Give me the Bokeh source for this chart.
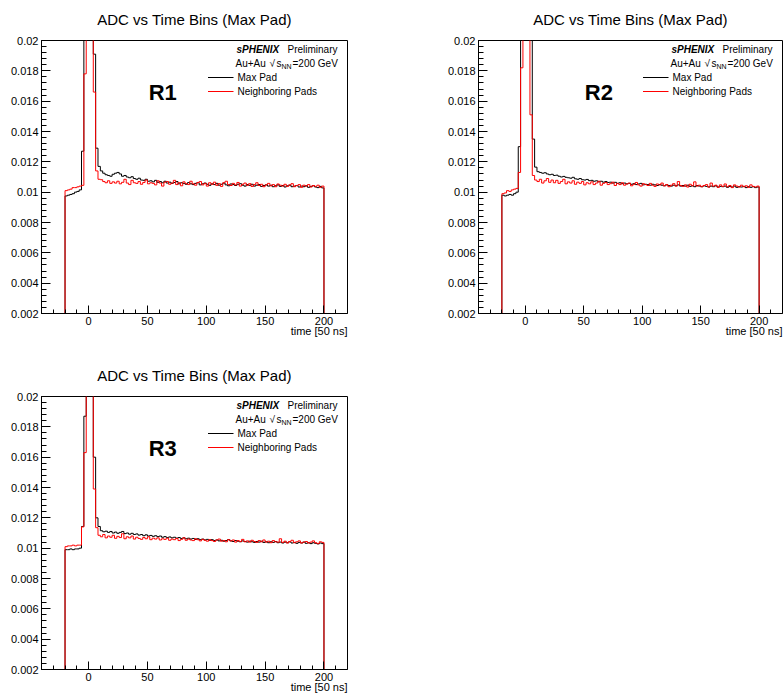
import numpy as np
from bokeh.plotting import figure
from bokeh.layouts import column, row
from bokeh.models import (FixedTicker, CustomJSTickFormatter, Label, Legend,
                          LegendItem, Range1d, Title)
from bokeh.embed import file_html
from bokeh.resources import INLINE

FONT = "Liberation Sans"
TITLE = "ADC vs Time Bins (Max Pad)"
X_TITLE = "time [50 ns]"

# Histogram binning (time in units of 50 ns): 2-sample bins, filled from -20 to 200
HIST_LO, HIST_HI = -40, 220
DATA_LO = -20
BIN_W = 2

X_MAJOR = [0, 50, 100, 150, 200]
X_MINOR = [v for v in range(-30, 220, 10) if v not in X_MAJOR]
Y_MIN, Y_MAX = 0.002, 0.02
Y_MAJOR = [0.002, 0.004, 0.006, 0.008, 0.010, 0.012, 0.014, 0.016, 0.018, 0.020]
Y_MINOR = [round(0.002 + 0.0004 * k, 5) for k in range(46)]

# Normalised ADC per time bin, bins [-20,-18), [-18,-16), ... [198,200)
R1_MAX_PAD = [
    0.00975, 0.00980, 0.00985, 0.00990, 0.01000, 0.01005, 0.01015,
    0.01270, 0.03100, 0.05400, 0.04700, 0.03300, 0.01910, 0.01290,
    0.01170, 0.01140, 0.01125, 0.01115, 0.01110, 0.01105, 0.01118, 0.01125,
    0.01130, 0.01120, 0.01105, 0.01110, 0.01100, 0.01095, 0.01102, 0.01090,
    0.01085, 0.01092, 0.01080, 0.01078, 0.01085, 0.01072, 0.01075, 0.01068,
    0.01078, 0.01065, 0.01070, 0.01062, 0.01072, 0.01060, 0.01066, 0.01058,
    0.01064, 0.01070, 0.01055, 0.01062, 0.01058, 0.01052, 0.01063, 0.01055,
    0.01050, 0.01058, 0.01062, 0.01048, 0.01055, 0.01060, 0.01052, 0.01045,
    0.01055, 0.01050, 0.01058, 0.01046, 0.01052, 0.01060, 0.01048, 0.01042,
    0.01054, 0.01050, 0.01044, 0.01052, 0.01056, 0.01046, 0.01040, 0.01050,
    0.01045, 0.01052, 0.01040, 0.01046, 0.01050, 0.01038, 0.01044, 0.01048,
    0.01040, 0.01046, 0.01036, 0.01042, 0.01048, 0.01038, 0.01044, 0.01034,
    0.01042, 0.01046, 0.01036, 0.01040, 0.01044, 0.01034, 0.01040, 0.01036,
    0.01042, 0.01032, 0.01038, 0.01042, 0.01034, 0.01030, 0.01038, 0.01028,
]
R1_NEIGHBORS = [
    0.01010, 0.01015, 0.01020, 0.01030, 0.01030, 0.01035, 0.01040,
    0.01045, 0.01780, 0.05600, 0.04900, 0.02900, 0.01660, 0.01140,
    0.01085, 0.01082, 0.01070, 0.01062, 0.01075, 0.01058, 0.01068, 0.01060,
    0.01072, 0.01055, 0.01065, 0.01085, 0.01060, 0.01050, 0.01078, 0.01062,
    0.01058, 0.01070, 0.01052, 0.01064, 0.01080, 0.01055, 0.01062, 0.01058,
    0.01048, 0.01075, 0.01060, 0.01040, 0.01066, 0.01070, 0.01052, 0.01060,
    0.01078, 0.01050, 0.01062, 0.01042, 0.01068, 0.01056, 0.01050, 0.01072,
    0.01055, 0.01046, 0.01064, 0.01070, 0.01048, 0.01058, 0.01040, 0.01062,
    0.01052, 0.01066, 0.01045, 0.01056, 0.01038, 0.01062, 0.01072, 0.01050,
    0.01044, 0.01058, 0.01048, 0.01064, 0.01040, 0.01052, 0.01060, 0.01045,
    0.01056, 0.01038, 0.01050, 0.01062, 0.01044, 0.01052, 0.01036, 0.01048,
    0.01058, 0.01042, 0.01050, 0.01036, 0.01054, 0.01046, 0.01040, 0.01052,
    0.01038, 0.01048, 0.01056, 0.01036, 0.01044, 0.01050, 0.01032, 0.01046,
    0.01040, 0.01050, 0.01034, 0.01044, 0.01038, 0.01046, 0.01032, 0.01040,
]
R2_MAX_PAD = [
    0.00980, 0.00975, 0.00980, 0.00985, 0.00980, 0.00990, 0.01000,
    0.01300, 0.03000, 0.05200, 0.04800, 0.03400, 0.02300, 0.01350,
    0.01165, 0.01135, 0.01130, 0.01125, 0.01128, 0.01120, 0.01115, 0.01118,
    0.01110, 0.01112, 0.01105, 0.01100, 0.01104, 0.01098, 0.01095, 0.01092,
    0.01098, 0.01088, 0.01085, 0.01090, 0.01082, 0.01080, 0.01084, 0.01076,
    0.01078, 0.01072, 0.01075, 0.01068, 0.01072, 0.01066, 0.01070, 0.01064,
    0.01066, 0.01060, 0.01065, 0.01058, 0.01062, 0.01056, 0.01060, 0.01055,
    0.01058, 0.01052, 0.01056, 0.01050, 0.01054, 0.01058, 0.01048, 0.01052,
    0.01050, 0.01046, 0.01052, 0.01048, 0.01044, 0.01050, 0.01046, 0.01042,
    0.01048, 0.01044, 0.01040, 0.01046, 0.01042, 0.01048, 0.01040, 0.01044,
    0.01040, 0.01046, 0.01038, 0.01042, 0.01036, 0.01044, 0.01040, 0.01036,
    0.01042, 0.01038, 0.01034, 0.01040, 0.01036, 0.01042, 0.01034, 0.01038,
    0.01036, 0.01040, 0.01032, 0.01038, 0.01034, 0.01040, 0.01032, 0.01036,
    0.01034, 0.01038, 0.01030, 0.01036, 0.01032, 0.01036, 0.01030, 0.01034,
]
R2_NEIGHBORS = [
    0.00990, 0.00995, 0.01010, 0.01005, 0.01015, 0.01020, 0.01025,
    0.01130, 0.01820, 0.05500, 0.05000, 0.03100, 0.01510, 0.01110,
    0.01080, 0.01070, 0.01085, 0.01060, 0.01075, 0.01090, 0.01065, 0.01080,
    0.01062, 0.01078, 0.01058, 0.01070, 0.01085, 0.01055, 0.01068, 0.01060,
    0.01075, 0.01052, 0.01066, 0.01058, 0.01070, 0.01048, 0.01062, 0.01055,
    0.01068, 0.01050, 0.01060, 0.01072, 0.01046, 0.01058, 0.01064, 0.01050,
    0.01056, 0.01066, 0.01044, 0.01058, 0.01050, 0.01062, 0.01046, 0.01054,
    0.01060, 0.01042, 0.01052, 0.01064, 0.01048, 0.01040, 0.01056, 0.01050,
    0.01044, 0.01058, 0.01046, 0.01038, 0.01054, 0.01048, 0.01060, 0.01042,
    0.01050, 0.01036, 0.01046, 0.01056, 0.01040, 0.01070, 0.01044, 0.01038,
    0.01048, 0.01034, 0.01052, 0.01042, 0.01068, 0.01040, 0.01046, 0.01036,
    0.01044, 0.01050, 0.01034, 0.01060, 0.01040, 0.01046, 0.01032, 0.01048,
    0.01038, 0.01054, 0.01036, 0.01044, 0.01030, 0.01048, 0.01040, 0.01034,
    0.01046, 0.01036, 0.01042, 0.01032, 0.01048, 0.01038, 0.01034, 0.01040,
]
R3_MAX_PAD = [
    0.00990, 0.00990, 0.00995, 0.00990, 0.00995, 0.00995, 0.01000,
    0.01143, 0.01870, 0.05300, 0.04600, 0.03200, 0.01600, 0.01200,
    0.01143, 0.01115, 0.01108, 0.01112, 0.01104, 0.01110, 0.01100, 0.01106,
    0.01098, 0.01104, 0.01110, 0.01096, 0.01100, 0.01092, 0.01098, 0.01090,
    0.01094, 0.01086, 0.01090, 0.01082, 0.01088, 0.01080, 0.01084, 0.01078,
    0.01082, 0.01076, 0.01080, 0.01072, 0.01076, 0.01070, 0.01074, 0.01068,
    0.01072, 0.01066, 0.01070, 0.01064, 0.01068, 0.01062, 0.01066, 0.01060,
    0.01064, 0.01058, 0.01062, 0.01056, 0.01060, 0.01054, 0.01058, 0.01052,
    0.01056, 0.01050, 0.01054, 0.01048, 0.01052, 0.01046, 0.01050, 0.01056,
    0.01048, 0.01044, 0.01050, 0.01046, 0.01042, 0.01048, 0.01044, 0.01040,
    0.01046, 0.01042, 0.01038, 0.01044, 0.01040, 0.01046, 0.01038, 0.01042,
    0.01036, 0.01042, 0.01038, 0.01044, 0.01036, 0.01040, 0.01034, 0.01040,
    0.01036, 0.01042, 0.01034, 0.01038, 0.01032, 0.01038, 0.01034, 0.01040,
    0.01032, 0.01036, 0.01030, 0.01036, 0.01032, 0.01028, 0.01034, 0.01030,
]
R3_NEIGHBORS = [
    0.01010, 0.01015, 0.01015, 0.01020, 0.01015, 0.01020, 0.01020,
    0.01140, 0.01630, 0.05500, 0.04800, 0.03000, 0.01390, 0.01135,
    0.01085, 0.01075, 0.01090, 0.01068, 0.01080, 0.01072, 0.01085, 0.01065,
    0.01078, 0.01070, 0.01095, 0.01062, 0.01075, 0.01068, 0.01080, 0.01060,
    0.01072, 0.01064, 0.01058, 0.01070, 0.01062, 0.01075, 0.01056, 0.01066,
    0.01060, 0.01068, 0.01054, 0.01062, 0.01058, 0.01066, 0.01052, 0.01060,
    0.01056, 0.01064, 0.01050, 0.01058, 0.01068, 0.01052, 0.01060, 0.01054,
    0.01050, 0.01062, 0.01056, 0.01048, 0.01058, 0.01052, 0.01046, 0.01056,
    0.01050, 0.01044, 0.01054, 0.01060, 0.01046, 0.01050, 0.01042, 0.01056,
    0.01048, 0.01054, 0.01040, 0.01050, 0.01044, 0.01058, 0.01042, 0.01048,
    0.01040, 0.01052, 0.01044, 0.01038, 0.01050, 0.01042, 0.01054, 0.01040,
    0.01046, 0.01036, 0.01050, 0.01042, 0.01040, 0.01062, 0.01038, 0.01046,
    0.01034, 0.01044, 0.01052, 0.01036, 0.01042, 0.01048, 0.01034, 0.01040,
    0.01044, 0.01034, 0.01040, 0.01048, 0.01036, 0.01030, 0.01042, 0.01038,
]

EDGES = np.arange(HIST_LO, HIST_HI + BIN_W, BIN_W)
N_BINS = len(EDGES) - 1
LEAD = (DATA_LO - HIST_LO) // BIN_W


def step_values(vals):
    """Full-range bin contents (empty bins = 0) with the last value repeated for step drawing."""
    trail = N_BINS - LEAD - len(vals)
    y = np.concatenate([np.zeros(LEAD), np.asarray(vals, float), np.zeros(trail)])
    return np.append(y, y[-1])


def style_axes(p):
    p.xaxis.ticker = FixedTicker(ticks=X_MAJOR, minor_ticks=X_MINOR)
    p.yaxis.ticker = FixedTicker(ticks=Y_MAJOR, minor_ticks=Y_MINOR)
    p.yaxis.formatter = CustomJSTickFormatter(code="return String(Number(tick.toFixed(3)));")
    for ax, major, minor in ((p.xaxis, 8, 4), (p.yaxis, 9, 5)):
        ax.major_tick_in = major
        ax.major_tick_out = 0
        ax.minor_tick_in = minor
        ax.minor_tick_out = 0
        ax.major_label_standoff = 3
        ax.major_label_text_font = FONT
        ax.major_label_text_font_size = "11px"
        ax.major_label_text_color = "black"
        ax.axis_line_color = "black"
        ax.major_tick_line_color = "black"
        ax.minor_tick_line_color = "black"
    p.xgrid.visible = False
    p.ygrid.visible = False


def text(p, txt, dx, dy, size="10px", style="normal", x=HIST_HI, y=Y_MAX, align="left"):
    p.add_layout(Label(x=x, y=y, x_offset=dx, y_offset=dy, text=txt,
                       text_font=FONT, text_font_size=size, text_font_style=style,
                       text_align=align, text_baseline="middle", text_color="black"))


def make_panel(max_pad, neighbors, tag, width, height, left, right, top, bottom, title_offset):
    p = figure(width=width, height=height, output_backend="svg", toolbar_location=None,
               x_range=Range1d(HIST_LO, HIST_HI), y_range=Range1d(Y_MIN, Y_MAX),
               min_border_left=left, min_border_right=right,
               min_border_top=top, min_border_bottom=bottom,
               title=TITLE)
    p.title.align = "center"
    p.title.vertical_align = "top"
    p.title.offset = title_offset
    p.title.standoff = 21
    p.title.text_font = FONT
    p.title.text_font_size = "15px"
    p.title.text_font_style = "normal"
    p.title.text_color = "black"
    p.outline_line_color = "black"
    p.outline_line_alpha = 1.0
    p.background_fill_color = "white"
    p.border_fill_color = "white"
    style_axes(p)

    # x-axis title, right-aligned under the frame
    p.add_layout(Title(text=X_TITLE, align="right", standoff=-10, text_font=FONT,
                       text_font_size="11px", text_font_style="normal",
                       text_color="black"), "below")

    r_max = p.step(EDGES, step_values(max_pad), mode="after", line_color="black", line_width=1)
    r_nb = p.step(EDGES, step_values(neighbors), mode="after", line_color="#ff0000", line_width=1)

    legend = Legend(items=[LegendItem(label="Max Pad", renderers=[r_max]),
                           LegendItem(label="Neighboring Pads", renderers=[r_nb])],
                    location="top_right", margin=30, padding=0, spacing=0,
                    glyph_width=26, glyph_height=14, label_height=14, label_standoff=4,
                    label_text_font=FONT, label_text_font_size="10px",
                    label_text_color="black",
                    border_line_color=None, background_fill_alpha=0)
    p.add_layout(legend)

    # experiment header lines
    text(p, "sPHENIX", -111, -8.5, style="bold italic")
    text(p, "Preliminary", -60, -8.5)
    text(p, "Au+Au", -112, -23)
    text(p, "\u221a", -78, -23)
    text(p, "s", -71, -23)
    text(p, "NN", -66, -26, size="7px")
    text(p, "=200 GeV", -55, -23)

    # region tag
    text(p, tag, 0, 0, size="22px", style="bold", x=63, y=0.0166, align="center")
    return p


p1 = make_panel(R1_MAX_PAD, R1_NEIGHBORS, "R1", 391, 347, 41, 44, 40, 34, 6)
p2 = make_panel(R2_MAX_PAD, R2_NEIGHBORS, "R2", 392, 347, 87, 1, 40, 34, -7)
p3 = make_panel(R3_MAX_PAD, R3_NEIGHBORS, "R3", 391, 348, 41, 44, 49, 26, 6)

layout = column(row(p1, p2), row(p3))
open("out.html", "w").write(file_html(layout, INLINE))
